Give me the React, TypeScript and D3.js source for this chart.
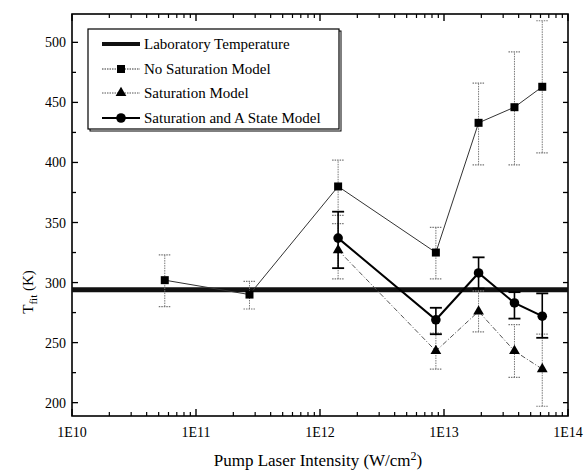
import React, { useEffect, useRef } from 'react';
import * as d3 from 'd3';

// values
const labTemp = 294;

const noSatX = [5.6e10, 2.7e11, 1.4e12, 8.6e12, 1.9e13, 3.7e13, 6.2e13];
const noSatT = [302, 290, 380, 325, 433, 446, 463];
const noSatLo = [280, 278, 356, 303, 398, 398, 408];
const noSatHi = [323, 301, 402, 346, 466, 492, 518];

const satX = [1.4e12, 8.6e12, 1.9e13, 3.7e13, 6.2e13];
const satT = [327, 243, 276, 243, 228];
const satLo = [303, 228, 259, 221, 197];
const satHi = [349, 258, 293, 265, 257];

const aStateT = [337, 269, 308, 283, 272];
const aStateLo = [312, 257, 295, 270, 254];
const aStateHi = [359, 279, 321, 292, 291];

const xTicks = [1e10, 1e11, 1e12, 1e13, 1e14];
const xTickLabels = ['1E10', '1E11', '1E12', '1E13', '1E14'];
const yTicks = [200, 250, 300, 350, 400, 450, 500];

const legendLabels = ['Laboratory Temperature', 'No Saturation Model', 'Saturation Model', 'Saturation and A State Model'];

const W = 587;
const H = 474;
const FONT = "'Liberation Serif', 'DejaVu Serif', serif";

export default function App() {
  const ref = useRef<SVGSVGElement>(null);

  useEffect(() => {
    const svg = d3.select(ref.current);
    svg.selectAll('*').remove();

    const left = 72, right = 568, top = 14, bottom = 416;

    const x = d3.scaleLog().domain([1e10, 1e14]).range([left, right]);
    const y = d3.scaleLinear().domain([188.9, 523.6]).range([bottom, top]);

    const g = svg.append('g').style('font-family', FONT);

    // frame
    g.append('rect')
      .attr('x', left).attr('y', top)
      .attr('width', right - left).attr('height', bottom - top)
      .attr('fill', 'none').attr('stroke', '#000').attr('stroke-width', 1.6);

    // x ticks (inward, mirrored on top)
    const minorX: number[] = [];
    for (let e = 10; e < 14; e++) {
      for (let k = 2; k <= 9; k++) minorX.push(k * Math.pow(10, e));
    }
    minorX.forEach(v => {
      g.append('line').attr('x1', x(v)).attr('x2', x(v)).attr('y1', bottom).attr('y2', bottom - 4)
        .attr('stroke', '#000').attr('stroke-width', 1.2);
      g.append('line').attr('x1', x(v)).attr('x2', x(v)).attr('y1', top).attr('y2', top + 4)
        .attr('stroke', '#000').attr('stroke-width', 1.2);
    });
    xTicks.forEach((v, i) => {
      g.append('line').attr('x1', x(v)).attr('x2', x(v)).attr('y1', bottom).attr('y2', bottom - 7)
        .attr('stroke', '#000').attr('stroke-width', 1.4);
      g.append('line').attr('x1', x(v)).attr('x2', x(v)).attr('y1', top).attr('y2', top + 7)
        .attr('stroke', '#000').attr('stroke-width', 1.4);
      g.append('text').attr('x', x(v)).attr('y', bottom + 21)
        .attr('text-anchor', 'middle').attr('font-size', 14)
        .text(xTickLabels[i]);
    });

    // y ticks
    const yMinor = d3.range(200, 525, 25);
    yMinor.forEach(v => {
      const major = v % 50 === 0;
      g.append('line').attr('x1', left).attr('x2', left + (major ? 6 : 4)).attr('y1', y(v)).attr('y2', y(v))
        .attr('stroke', '#000').attr('stroke-width', 1.3);
      g.append('line').attr('x1', right).attr('x2', right - 5).attr('y1', y(v)).attr('y2', y(v))
        .attr('stroke', '#000').attr('stroke-width', 1.3);
    });
    yTicks.forEach(v => {
      g.append('text').attr('x', left - 6).attr('y', y(v) + 5)
        .attr('text-anchor', 'end').attr('font-size', 14)
        .text(v);
    });

    // axis titles
    const xt = g.append('text').attr('x', 318).attr('y', 466)
      .attr('text-anchor', 'middle').attr('font-size', 17);
    xt.append('tspan').text('Pump Laser Intensity (W/cm');
    xt.append('tspan').attr('dy', -6).attr('font-size', 12).text('2');
    xt.append('tspan').attr('dy', 6).text(')');

    const yt = g.append('text').attr('transform', 'translate(33,292) rotate(-90)')
      .attr('text-anchor', 'middle').attr('font-size', 15);
    yt.append('tspan').text('T');
    yt.append('tspan').attr('dy', 4).attr('font-size', 11).text('fit');
    yt.append('tspan').attr('dy', -4).text(' (K)');

    // laboratory temperature
    g.append('line').attr('x1', left).attr('x2', right).attr('y1', y(labTemp)).attr('y2', y(labTemp))
      .attr('stroke', '#111').attr('stroke-width', 5);

    const errBars = (xs: number[], lo: number[], hi: number[], solid: boolean) => {
      xs.forEach((v, i) => {
        const cx = x(v);
        const st = solid ? '#000' : '#777';
        const dash = solid ? null : '1.5,1';
        const w = solid ? 1.6 : 1;
        g.append('line').attr('x1', cx).attr('x2', cx).attr('y1', y(lo[i])).attr('y2', y(hi[i]))
          .attr('stroke', st).attr('stroke-width', w).attr('stroke-dasharray', dash);
        [lo[i], hi[i]].forEach(e => {
          g.append('line').attr('x1', cx - 6).attr('x2', cx + 6).attr('y1', y(e)).attr('y2', y(e))
            .attr('stroke', st).attr('stroke-width', solid ? 1.8 : 1.2).attr('stroke-dasharray', dash);
        });
      });
    };

    errBars(noSatX, noSatLo, noSatHi, false);
    errBars(satX, satLo, satHi, false);
    errBars(satX, aStateLo, aStateHi, true);

    const line = d3.line<[number, number]>().x(d => x(d[0])).y(d => y(d[1]));

    g.append('path').attr('d', line(noSatX.map((v, i) => [v, noSatT[i]] as [number, number])))
      .attr('fill', 'none').attr('stroke', '#333').attr('stroke-width', 1);
    g.append('path').attr('d', line(satX.map((v, i) => [v, satT[i]] as [number, number])))
      .attr('fill', 'none').attr('stroke', '#555').attr('stroke-width', 1).attr('stroke-dasharray', '5,2,1,2');
    g.append('path').attr('d', line(satX.map((v, i) => [v, aStateT[i]] as [number, number])))
      .attr('fill', 'none').attr('stroke', '#000').attr('stroke-width', 2);

    const sq = d3.symbol().type(d3.symbolSquare).size(64);
    const tri = d3.symbol().type(d3.symbolTriangle).size(50);

    noSatX.forEach((v, i) => {
      g.append('path').attr('d', sq()).attr('transform', `translate(${x(v)},${y(noSatT[i])})`).attr('fill', '#000');
    });
    satX.forEach((v, i) => {
      g.append('path').attr('d', tri()).attr('transform', `translate(${x(v)},${y(satT[i])})`).attr('fill', '#000');
      g.append('circle').attr('cx', x(v)).attr('cy', y(aStateT[i])).attr('r', 4.8).attr('fill', '#000');
    });

    // legend
    const lx = 88, ly = 29, lw = 251, lh = 100;
    g.append('rect').attr('x', lx + 2).attr('y', ly + 2).attr('width', lw).attr('height', lh)
      .attr('fill', 'none').attr('stroke', '#000').attr('stroke-width', 1);
    g.append('rect').attr('x', lx).attr('y', ly).attr('width', lw).attr('height', lh)
      .attr('fill', '#fff').attr('stroke', '#000').attr('stroke-width', 1.2);

    const rowY = [44, 69, 93, 118];
    const sx1 = 102, sx2 = 140, smid = 121;
    legendLabels.forEach((lab, i) => {
      const ry = rowY[i];
      const ln = g.append('line').attr('x1', sx1).attr('x2', sx2).attr('y1', ry).attr('y2', ry);
      if (i === 0) ln.attr('stroke', '#111').attr('stroke-width', 4);
      if (i === 1) ln.attr('stroke', '#333').attr('stroke-width', 1).attr('stroke-dasharray', '1.5,1');
      if (i === 2) ln.attr('stroke', '#555').attr('stroke-width', 1).attr('stroke-dasharray', '1.5,1');
      if (i === 3) ln.attr('stroke', '#000').attr('stroke-width', 2);
      if (i === 1) g.append('path').attr('d', sq()).attr('transform', `translate(${smid},${ry})`).attr('fill', '#000');
      if (i === 2) g.append('path').attr('d', tri()).attr('transform', `translate(${smid},${ry})`).attr('fill', '#000');
      if (i === 3) g.append('circle').attr('cx', smid).attr('cy', ry).attr('r', 4.8).attr('fill', '#000');
      g.append('text').attr('x', 144).attr('y', ry + 5).attr('font-size', 15).text(lab);
    });
  }, []);

  return (
    <div>
      <svg ref={ref} width={W} height={H} style={{ position: 'absolute', left: 0, top: 0, background: '#fff' }} />
    </div>
  );
}
